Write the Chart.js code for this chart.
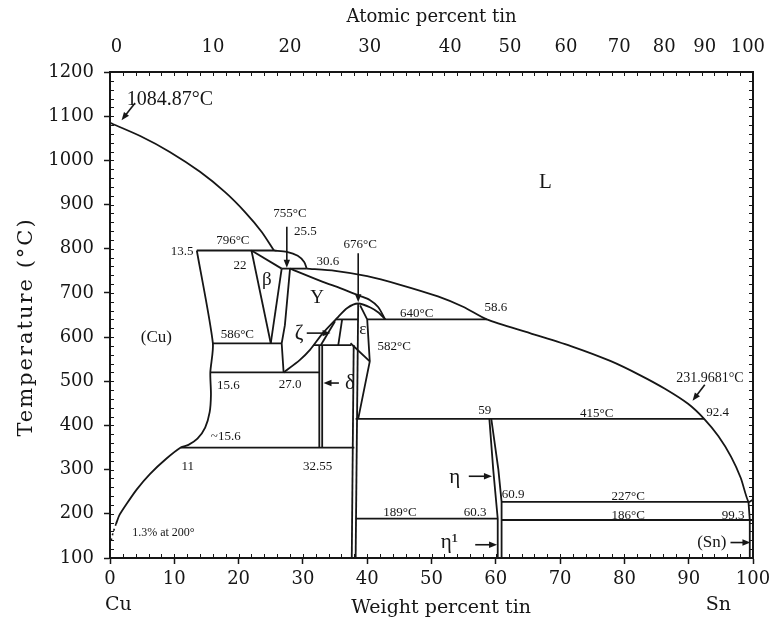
<!DOCTYPE html>
<html>
<head>
<meta charset="utf-8">
<script src="https://cdn.jsdelivr.net/npm/chart.js@4.4.1/dist/chart.umd.min.js"></script>
<style>
  html, body { margin: 0; padding: 0; background: #fff; }
  #wrap { width: 784px; height: 625px; position: relative; }
</style>
</head>
<body>
<div id="wrap"><canvas id="c"></canvas></div>
<script>
// ---- Axis ticks ----
const tempTicks = [100, 200, 300, 400, 500, 600, 700, 800, 900, 1000, 1100, 1200];
const wtTicks = [0, 10, 20, 30, 40, 50, 60, 70, 80, 90, 100];
const atomicLabels = ['0', '10', '20', '30', '40', '50', '60', '70', '80', '90', '100'];
// weight-percent position at which each atomic-percent label sits
const atomicAtWt = [1.0, 16.0, 28.0, 40.4, 52.9, 62.2, 70.9, 79.2, 86.2, 92.5, 99.2];

// ---- Phase boundaries: [wt% Sn, temperature °C] ----
const liquidusCu = [[0, 1084.87], [4.7, 1055], [9.3, 1019], [14.0, 974], [17.9, 928], [21.0, 883],
  [23.6, 838], [25.5, 796]];
const liquidusBeta = [[25.5, 796], [27.5, 793], [29.2, 784], [30.2, 770], [30.6, 755]];
const liquidusSn = [[30.6, 755], [35, 750], [40, 738], [45, 719], [51, 692], [55, 668], [58.6, 640],
  [65.3, 609], [72.0, 578], [77.8, 546], [82.4, 514], [86.3, 483], [89.9, 449], [92.4, 415], [94.6, 376],
  [96.6, 329], [98.1, 281], [99.3, 227], [100, 231.97]];
const gammaSolidus = [[28, 755], [33.1, 725], [35.8, 711], [38.9, 693], [40.4, 684], [41.7, 668], [42.8, 640]];
const gammaDome = [[27, 520], [29.5, 548], [31.1, 571], [33.1, 609], [35.3, 643], [36.9, 666], [38.6, 676],
  [40.5, 667], [41.8, 655], [42.8, 640]];
const gammaLeft = [[28, 755], [27.2, 627], [26.7, 586], [27, 520]];
const betaLeft = [[22, 796], [25, 586]];
const betaRight = [[26.7, 755], [25, 586]];
const betaLiquid = [[22, 796], [26.7, 755]];
const alphaSolvus = [[13.5, 796], [16.0, 586], [15.6, 520], [15.7, 470], [15.5, 430], [14.8, 395],
  [13.6, 370], [12.2, 356], [11, 350], [8.7, 324], [6.2, 290], [4.2, 256], [2.65, 224], [1.5, 198], [0.93, 177]];
const alphaLowT = [[0.93, 177], [0.47, 157], [0.16, 138]];
const iso796 = [[13.5, 796], [25.5, 796]];
const iso755 = [[26.7, 755], [30.6, 755]];
const iso586 = [[16.0, 586], [26.7, 586]];
const iso520 = [[15.6, 520], [32.55, 520]];
const iso350 = [[11, 350], [38, 350]];
const iso640 = [[40, 640], [58.6, 640]];
const iso582 = [[31.7, 582], [37.5, 582]];
const zetaTop = [[35.1, 640], [38.6, 640]];
const zetaLeft = [[32.8, 582], [35.0, 636]];
const zetaRight = [[36.1, 640], [35.5, 582]];
const deltaLeft = [[32.55, 582], [32.55, 350]];
const deltaRight = [[33.0, 582], [33.0, 350]];
const epsLeftA = [[38.6, 676], [38.2, 100]];
const epsLeftB = [[37.9, 582], [37.6, 100]];
const epsRight = [[38.9, 672], [40, 640], [40.4, 545], [38.6, 415]];
const epsTie = [[37.4, 586], [40.4, 545]];
const iso415 = [[38.2, 415], [92.4, 415]];
const etaLeft = [[59, 415], [59.6, 300], [60.3, 189], [60.3, 100]];
const etaRight = [[59.3, 415], [60.4, 300], [60.9, 227], [60.9, 100]];
const iso189 = [[38.2, 189], [60.3, 189]];
const iso227 = [[60.9, 227], [99.3, 227]];
const iso186 = [[60.9, 186], [100, 186]];
const snSolvus = [[99.3, 227], [99.5, 186], [99.5, 100]];

// ---- Pointer arrows: [from, to] ----
const arrows = [
  [[3.9, 1130], [1.8, 1091]],
  [[27.5, 850], [27.5, 757]],
  [[38.6, 790], [38.6, 679]],
  [[92.5, 492], [90.6, 456]],
  [[30.6, 609], [34.3, 609]],
  [[35.6, 496], [33.2, 496]],
  [[55.8, 285], [59.4, 285]],
  [[56.8, 130], [60.2, 130]],
  [[96.5, 135], [99.6, 135]]
];

// ---- Text annotations: [text, wt%, °C, size] ----
const notes = [
  ['1084.87°C', 9.3, 1137, 20], ['755°C', 28.0, 880, 13], ['25.5', 30.4, 838, 13],
  ['796°C', 19.1, 818, 13], ['13.5', 11.2, 793, 13], ['22', 20.2, 762, 13],
  ['β', 24.4, 729, 19], ['30.6', 33.9, 770, 13], ['676°C', 38.9, 809, 13],
  ['Υ', 32.2, 688, 19], ['640°C', 47.7, 654, 13], ['58.6', 60.0, 666, 13],
  ['L', 67.7, 949, 21], ['(Cu)', 7.2, 600, 17], ['586°C', 19.8, 605, 13],
  ['ζ', 29.4, 609, 21], ['ε', 39.3, 616, 17], ['582°C', 44.2, 578, 13],
  ['δ', 37.3, 496, 21], ['15.6', 18.4, 490, 13], ['27.0', 28.0, 492, 13],
  ['~15.6', 18.0, 375, 13], ['11', 12.1, 306, 13], ['32.55', 32.3, 306, 13],
  ['1.3% at 200°', 8.3, 157, 12], ['59', 58.3, 433, 13], ['415°C', 75.7, 428, 13],
  ['92.4', 94.5, 430, 13], ['231.9681°C', 93.3, 507, 14], ['η', 53.6, 283, 21],
  ['60.9', 62.7, 243, 13], ['227°C', 80.6, 238, 13], ['189°C', 45.1, 202, 13],
  ['60.3', 56.8, 202, 13], ['186°C', 80.6, 197, 13], ['99.3', 96.9, 197, 13],
  ['η¹', 52.8, 134, 21], ['(Sn)', 93.6, 136, 17]
];

const INK = '#161616';
const SERIF = '"DejaVu Serif", serif';
const TIMES = '"Liberation Serif", "Times New Roman", serif';

const curved = new Set([liquidusCu, liquidusBeta, liquidusSn, gammaSolidus, gammaDome, alphaSolvus, alphaLowT]);
const boundaryList = [liquidusCu, liquidusBeta, liquidusSn, gammaSolidus, gammaDome, gammaLeft, betaLeft,
  betaRight, betaLiquid, alphaSolvus, alphaLowT, iso796, iso755, iso586, iso520, iso350, iso640, iso582,
  zetaTop, zetaLeft, zetaRight, deltaLeft, deltaRight, epsLeftA, epsLeftB, epsRight, epsTie, iso415,
  etaLeft, etaRight, iso189, iso227, iso186, snSolvus];

const datasets = boundaryList.map(arr => ({
  data: arr.map(([x, y]) => ({ x, y })),
  showLine: true,
  borderColor: INK,
  borderWidth: arr === alphaLowT ? 1.6 : 1.8,
  borderDash: arr === alphaLowT ? [2, 3] : [],
  pointRadius: 0,
  tension: curved.has(arr) ? 0.25 : 0,
  fill: false
}));

// Extra drawing: minor ticks, axis titles, arrows and annotations
const decorations = {
  id: 'decorations',
  afterDatasetsDraw(chart) {
    const { ctx, chartArea: a, scales: { x, y } } = chart;
    ctx.save();
    // minor ticks on all four sides
    ctx.strokeStyle = INK; ctx.lineWidth = 1;
    ctx.beginPath();
    for (let v = 100; v <= 1200; v += 20) {
      const py = Math.round(y.getPixelForValue(v)) + 0.5;
      ctx.moveTo(a.left, py); ctx.lineTo(a.left + 4, py);
      ctx.moveTo(a.right, py); ctx.lineTo(a.right - 4, py);
    }
    for (let v = 0; v <= 100; v += 2) {
      const px = Math.round(x.getPixelForValue(v)) + 0.5;
      ctx.moveTo(px, a.bottom); ctx.lineTo(px, a.bottom - 4);
      ctx.moveTo(px, a.top); ctx.lineTo(px, a.top + 4);
    }
    ctx.stroke();

    // pointer arrows
    ctx.fillStyle = INK; ctx.strokeStyle = INK; ctx.lineWidth = 1.6;
    arrows.forEach(([p0, p1]) => {
      const x0 = x.getPixelForValue(p0[0]), y0 = y.getPixelForValue(p0[1]);
      const x1 = x.getPixelForValue(p1[0]), y1 = y.getPixelForValue(p1[1]);
      const ang = Math.atan2(y1 - y0, x1 - x0);
      ctx.beginPath(); ctx.moveTo(x0, y0); ctx.lineTo(x1 - 5 * Math.cos(ang), y1 - 5 * Math.sin(ang)); ctx.stroke();
      ctx.beginPath();
      ctx.moveTo(x1, y1);
      ctx.lineTo(x1 - 8 * Math.cos(ang) + 3.2 * Math.sin(ang), y1 - 8 * Math.sin(ang) - 3.2 * Math.cos(ang));
      ctx.lineTo(x1 - 8 * Math.cos(ang) - 3.2 * Math.sin(ang), y1 - 8 * Math.sin(ang) + 3.2 * Math.cos(ang));
      ctx.closePath(); ctx.fill();
    });

    // annotations
    ctx.textAlign = 'center'; ctx.textBaseline = 'middle';
    notes.forEach(([t, w, T, s]) => {
      ctx.font = s + 'px ' + TIMES;
      ctx.fillText(t, x.getPixelForValue(w), y.getPixelForValue(T));
    });

    // axis titles and end-member names
    ctx.font = '18px ' + SERIF;
    ctx.fillText('Atomic percent tin', (a.left + a.right) / 2, 17);
    ctx.font = '19px ' + SERIF;
    ctx.fillText('Weight percent tin', x.getPixelForValue(51.5), a.bottom + 50);
    ctx.fillText('Cu', x.getPixelForValue(1.3), a.bottom + 47);
    ctx.fillText('Sn', x.getPixelForValue(94.6), a.bottom + 47);
    ctx.save();
    ctx.translate(27, (a.top + a.bottom) / 2 + 12);
    ctx.rotate(-Math.PI / 2);
    ctx.font = '21px ' + SERIF;
    try { ctx.letterSpacing = '2px'; } catch (e) {}
    ctx.fillText('Temperature (°C)', 0, 0);
    ctx.restore();
    ctx.restore();
  }
};

const tickFont = { family: SERIF, size: 18 };

new Chart(document.getElementById('c'), {
  type: 'scatter',
  data: { datasets },
  plugins: [decorations],
  options: {
    responsive: true,
    maintainAspectRatio: false,
    animation: false,
    layout: { padding: 0 },
    plugins: { legend: { display: false }, tooltip: { enabled: false } },
    scales: {
      x: {
        type: 'linear', position: 'bottom', min: 0, max: 100,
        afterBuildTicks: s => { s.ticks = wtTicks.map(v => ({ value: v })); },
        afterFit: s => { s.height = 67; },
        ticks: { font: tickFont, color: INK, padding: 5, maxRotation: 0, autoSkip: false,
                 callback: v => String(v) },
        grid: { drawOnChartArea: false, tickLength: 6, color: INK, tickWidth: 1.5 },
        border: { color: INK, width: 2 }
      },
      xTop: {
        type: 'linear', position: 'top', min: 0, max: 100,
        afterBuildTicks: s => { s.ticks = atomicAtWt.map(v => ({ value: v })); },
        afterFit: s => { s.height = 72; },
        ticks: { font: tickFont, color: INK, padding: 14, maxRotation: 0, autoSkip: false,
                 callback: (v, i) => atomicLabels[i] },
        grid: { display: false, drawTicks: false },
        border: { color: INK, width: 2 }
      },
      y: {
        type: 'linear', position: 'left', min: 100, max: 1200,
        afterBuildTicks: s => { s.ticks = tempTicks.map(v => ({ value: v })); },
        afterFit: s => { s.width = 110; },
        ticks: { font: tickFont, color: INK, padding: 10, callback: v => String(v) },
        grid: { drawOnChartArea: false, tickLength: 6, color: INK, tickWidth: 1.5 },
        border: { color: INK, width: 2 }
      },
      yRight: {
        type: 'linear', position: 'right', min: 100, max: 1200,
        afterFit: s => { s.width = 31; },
        ticks: { display: false },
        grid: { display: false, drawTicks: false },
        border: { color: INK, width: 2 }
      }
    }
  }
});
</script>
</body>
</html>
